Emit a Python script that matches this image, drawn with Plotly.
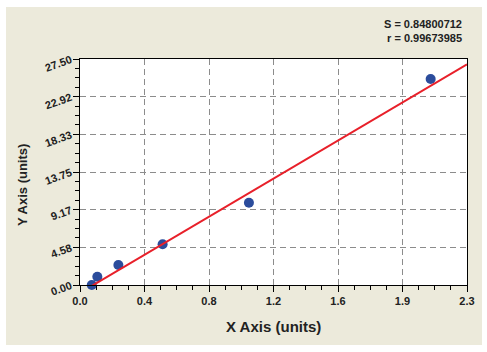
import plotly.graph_objects as go
import numpy as np

# Data
x_vals = [0.07, 0.103, 0.228, 0.491, 1.004, 2.084]
y_vals = [0.0, 1.0, 2.43, 4.95, 10.0, 25.06]
fit_slope = 12.09
fit_intercept = -0.96
fit_x = [0.063, 2.3]
x_ticktext = ["0.0", "0.4", "0.8", "1.2", "1.6", "1.9", "2.3"]
y_ticktext = ["0.00", "4.58", "9.17", "13.75", "18.33", "22.92", "27.50"]
stats_text = ["S = 0.84800712", "r = 0.99673985"]

x_max = 2.3
y_max = 27.5
x_tickvals = [i * x_max / 6 for i in range(7)]
y_tickvals = [i * y_max / 6 for i in range(7)]
fit_y = [fit_slope * v + fit_intercept for v in fit_x]

W, H = 487, 352
ML, MR, MT, MB = 80, 20, 59, 67
pw, ph = W - ML - MR, H - MT - MB

def px(xp):
    return (xp - ML) / pw

def py(yp):
    return (H - MB - yp) / ph

FONT = "Liberation Sans, Arial, sans-serif"
TXT = "#222222"

fig = go.Figure()
fig.add_trace(go.Scatter(x=x_vals, y=y_vals, mode="markers",
                         marker=dict(color="#2B4C9C", size=10),
                         cliponaxis=False, showlegend=False))
fig.add_trace(go.Scatter(x=fit_x, y=fit_y, mode="lines",
                         line=dict(color="#E8202A", width=2),
                         cliponaxis=False, showlegend=False))

axis_common = dict(
    showline=True, linecolor="black", linewidth=1, mirror=True,
    ticks="outside", ticklen=6, tickcolor="black", tickwidth=1,
    showgrid=True, gridcolor="#8c8c8c", griddash="6px,4px", gridwidth=1,
    zeroline=False,
    tickfont=dict(family=FONT, size=11, color=TXT, weight="bold"),
)

fig.update_xaxes(range=[0, x_max], tickmode="array", tickvals=x_tickvals,
                 ticktext=x_ticktext,
                 minor=dict(tickmode="linear", tick0=0, dtick=x_max / 24,
                            ticks="outside", ticklen=4, tickcolor="black",
                            showgrid=False),
                 **axis_common)
fig.update_yaxes(range=[0, y_max], tickmode="array", tickvals=y_tickvals,
                 ticktext=y_ticktext, tickangle=-20,
                 minor=dict(tickmode="linear", tick0=0, dtick=y_max / 24,
                            ticks="outside", ticklen=4, tickcolor="black",
                            showgrid=False),
                 **axis_common)

fig.update_layout(
    width=W, height=H, autosize=False,
    margin=dict(l=ML, r=MR, t=MT, b=MB, pad=0),
    paper_bgcolor="white", plot_bgcolor="white",
    shapes=[dict(type="rect", xref="paper", yref="paper",
                 x0=px(6), x1=px(482), y0=py(345), y1=py(7),
                 fillcolor="#ECEADB", line=dict(width=0), layer="below"),
            dict(type="rect", xref="paper", yref="paper",
                 x0=0, x1=1, y0=0, y1=1,
                 fillcolor="white", line=dict(width=0), layer="below")],
    annotations=[
        dict(text="<br>".join(stats_text), xref="paper", yref="paper",
             x=px(464), y=py(16), xanchor="right", yanchor="top", align="right",
             showarrow=False, font=dict(family=FONT, size=11, color=TXT, weight="bold")),
        dict(text="X Axis (units)", xref="paper", yref="paper",
             x=0.5, y=py(326), xanchor="center", yanchor="middle",
             showarrow=False, font=dict(family=FONT, size=15, color=TXT, weight="bold")),
        dict(text="Y Axis (units)", xref="paper", yref="paper",
             x=px(22), y=py(185), xanchor="center", yanchor="middle", textangle=-90,
             showarrow=False, font=dict(family=FONT, size=13, color=TXT, weight="bold")),
    ],
)

fig.write_html("out.html")
